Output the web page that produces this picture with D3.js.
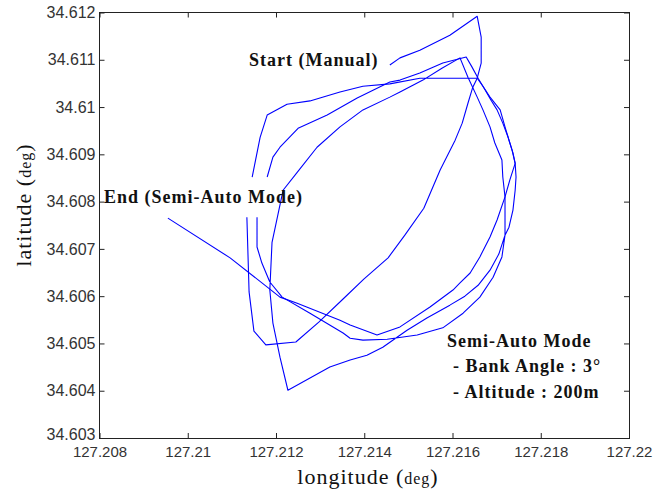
<!DOCTYPE html>
<html>
<head>
<meta charset="utf-8">
<script src="https://cdn.jsdelivr.net/npm/d3@7"></script>
<style>
  body { margin: 0; background: #fff; }
</style>
</head>
<body>
<div id="chart"></div>
<script>
// tick values and their printed labels
var lonTicks = [127.208, 127.21, 127.212, 127.214, 127.216, 127.218, 127.22];
var lonTickLabels = ["127.208", "127.21", "127.212", "127.214", "127.216", "127.218", "127.22"];
var latTicks = [34.603, 34.604, 34.605, 34.606, 34.607, 34.608, 34.609, 34.61, 34.611, 34.612];
var latTickLabels = ["34.603", "34.604", "34.605", "34.606", "34.607", "34.608", "34.609", "34.61", "34.611", "34.612"];

// flight track as [lon, lat], in three legs (the record has two short breaks)
var startLeg = [
  [127.21458, 34.61089], [127.21481, 34.61104], [127.21526, 34.61120], [127.21594, 34.61152],
  [127.21656, 34.61192], [127.21665, 34.61148], [127.21665, 34.61093], [127.21656, 34.61061],
  [127.21646, 34.61042], [127.21635, 34.61008], [127.21622, 34.60966], [127.21606, 34.60930],
  [127.21572, 34.60867], [127.21535, 34.60786], [127.21492, 34.60729], [127.21454, 34.60681],
  [127.21399, 34.60636], [127.21352, 34.60594], [127.21297, 34.60545], [127.21245, 34.60503],
  [127.21177, 34.60497], [127.21150, 34.60526], [127.21139, 34.60609], [127.21134, 34.60767]
];

var orbitLeg = [
  [127.21146, 34.60852], [127.21164, 34.60936], [127.21180, 34.60983], [127.21225, 34.61006],
  [127.21277, 34.61013], [127.21345, 34.61032], [127.21397, 34.61044], [127.21458, 34.61049],
  [127.21526, 34.61061], [127.21560, 34.61061], [127.21617, 34.61061], [127.21656, 34.61061],
  [127.21669, 34.61044], [127.21685, 34.61021], [127.21708, 34.60994], [127.21719, 34.60958],
  [127.21730, 34.60924], [127.21737, 34.60903], [127.21742, 34.60881], [127.21744, 34.60852],
  [127.21742, 34.60824], [127.21737, 34.60782], [127.21728, 34.60746], [127.21719, 34.60729],
  [127.21705, 34.60689], [127.21685, 34.60655], [127.21658, 34.60623], [127.21628, 34.60600],
  [127.21594, 34.60581], [127.21542, 34.60554], [127.21497, 34.60528], [127.21442, 34.60492],
  [127.21406, 34.60475], [127.21368, 34.60465], [127.21322, 34.60450], [127.21227, 34.60401],
  [127.21209, 34.60471], [127.21193, 34.60543], [127.21186, 34.60613], [127.21191, 34.60714],
  [127.21216, 34.60824], [127.21248, 34.60862], [127.21293, 34.60915], [127.21345, 34.60958],
  [127.21397, 34.60994], [127.21458, 34.61021], [127.21481, 34.61032], [127.21533, 34.61057],
  [127.21576, 34.61082], [127.21617, 34.61104], [127.21635, 34.61063], [127.21656, 34.61021],
  [127.21669, 34.60994], [127.21685, 34.60958], [127.21696, 34.60924], [127.21712, 34.60888],
  [127.21714, 34.60852], [127.21719, 34.60810], [127.21719, 34.60782], [127.21719, 34.60729],
  [127.21712, 34.60683], [127.21692, 34.60640], [127.21662, 34.60598], [127.21624, 34.60564],
  [127.21578, 34.60533], [127.21520, 34.60518], [127.21452, 34.60509], [127.21397, 34.60507],
  [127.21368, 34.60511], [127.21352, 34.60522], [127.21277, 34.60564], [127.21214, 34.60598],
  [127.21186, 34.60630], [127.21168, 34.60670], [127.21157, 34.60704], [127.21157, 34.60767]
];

var endLeg = [
  [127.21180, 34.60852], [127.21193, 34.60894], [127.21209, 34.60915], [127.21250, 34.60955],
  [127.21316, 34.60983], [127.21384, 34.61019], [127.21458, 34.61053], [127.21481, 34.61057],
  [127.21526, 34.61072], [127.21578, 34.61093], [127.21631, 34.61106], [127.21644, 34.61085],
  [127.21658, 34.61061], [127.21674, 34.61036], [127.21687, 34.61015], [127.21701, 34.60994],
  [127.21714, 34.60966], [127.21726, 34.60936], [127.21735, 34.60909], [127.21742, 34.60881],
  [127.21730, 34.60846], [127.21719, 34.60810], [127.21701, 34.60761], [127.21685, 34.60725],
  [127.21662, 34.60683], [127.21640, 34.60649], [127.21617, 34.60628], [127.21601, 34.60613],
  [127.21549, 34.60577], [127.21481, 34.60535], [127.21429, 34.60518], [127.21368, 34.60539],
  [127.21345, 34.60549], [127.21248, 34.60585], [127.21209, 34.60598], [127.21096, 34.60681],
  [127.20955, 34.60765]
];

// svg area
var svgWidth = 669;
var svgHeight = 493;
var margin = {top: 12.5, right: 40, bottom: 55, left: 99.5};
var width = svgWidth - margin.left - margin.right;
var height = svgHeight - margin.top - margin.bottom;

var svg = d3.select("#chart").append("svg").attr("width", svgWidth).attr("height", svgHeight);
svg.append("rect").attr("width", svgWidth).attr("height", svgHeight).attr("fill", "#fff");
var chartGroup = svg.append("g").attr("transform", `translate(${margin.left}, ${margin.top})`);

// scales
var xScale = d3.scaleLinear().domain([127.208, 127.22]).range([0, width]);
var yScale = d3.scaleLinear().domain([34.603, 34.612]).range([height, 0]);

// axes, ticks point inward on all four sides
var bottomAxis = d3.axisBottom(xScale).tickValues(lonTicks).tickFormat((d, i) => lonTickLabels[i])
  .tickSizeInner(-5).tickSizeOuter(0).tickPadding(8);
var leftAxis = d3.axisLeft(yScale).tickValues(latTicks).tickFormat((d, i) => latTickLabels[i])
  .tickSizeInner(-5).tickSizeOuter(0).tickPadding(4);
var topAxis = d3.axisTop(xScale).tickValues(lonTicks).tickFormat("").tickSizeInner(-5).tickSizeOuter(0);
var rightAxis = d3.axisRight(yScale).tickValues(latTicks).tickFormat("").tickSizeInner(-5).tickSizeOuter(0);

var gx = chartGroup.append("g").attr("transform", `translate(0, ${height})`).call(bottomAxis);
var gy = chartGroup.append("g").call(leftAxis);
var gt = chartGroup.append("g").call(topAxis);
var gr = chartGroup.append("g").attr("transform", `translate(${width}, 0)`).call(rightAxis);

[gx, gy, gt, gr].forEach(function(g) {
  g.select(".domain").remove();
  g.selectAll(".tick line").attr("stroke", "#222");
  g.selectAll("text").attr("font-family", "'Liberation Sans', Arial, sans-serif").attr("fill", "#333");
});
gx.selectAll("text").attr("font-size", "15px");
gy.selectAll("text").attr("font-size", "16px");
// lowest latitude label sits a little above its tick, clear of the longitude labels
gy.selectAll(".tick text").filter((d, i) => i === 0).attr("dy", "0.1em");

// frame
chartGroup.append("rect").attr("width", width).attr("height", height)
  .attr("fill", "none").attr("stroke", "#222").attr("stroke-width", 1).attr("shape-rendering", "crispEdges");

// track
var line = d3.line().x(d => xScale(d[0])).y(d => yScale(d[1]));
chartGroup.selectAll("path.track").data([startLeg, orbitLeg, endLeg]).enter().append("path")
  .attr("class", "track").attr("d", line)
  .attr("fill", "none").attr("stroke", "#0000ff").attr("stroke-width", 1.1).attr("stroke-linejoin", "round");

// annotations
var serif = "'Liberation Serif', 'Times New Roman', serif";
function note(x, y, txt) {
  svg.append("text").attr("x", x).attr("y", y).text(txt)
    .attr("font-family", serif).attr("font-weight", "bold").attr("font-size", "18px")
    .attr("letter-spacing", "1px").attr("fill", "#111");
}
note(249, 66, "Start (Manual)");
note(104, 203, "End (Semi-Auto Mode)");
note(447, 347, "Semi-Auto Mode");
note(453, 372, "- Bank Angle : 3°");
note(453, 398, "- Altitude : 200m");

// axis titles
var xTitle = svg.append("text").attr("x", 368).attr("y", 484).attr("text-anchor", "middle")
  .attr("font-family", serif).attr("font-size", "22px").attr("letter-spacing", "1px").attr("fill", "#111");
xTitle.append("tspan").text("longitude (");
xTitle.append("tspan").attr("font-size", "16px").text("deg");
xTitle.append("tspan").text(")");

var yTitle = svg.append("text").attr("transform", "translate(31, 205) rotate(-90)").attr("text-anchor", "middle")
  .attr("font-family", serif).attr("font-size", "22px").attr("letter-spacing", "1px").attr("fill", "#111");
yTitle.append("tspan").text("latitude (");
yTitle.append("tspan").attr("font-size", "16px").text("deg");
yTitle.append("tspan").text(")");
</script>
</body>
</html>
